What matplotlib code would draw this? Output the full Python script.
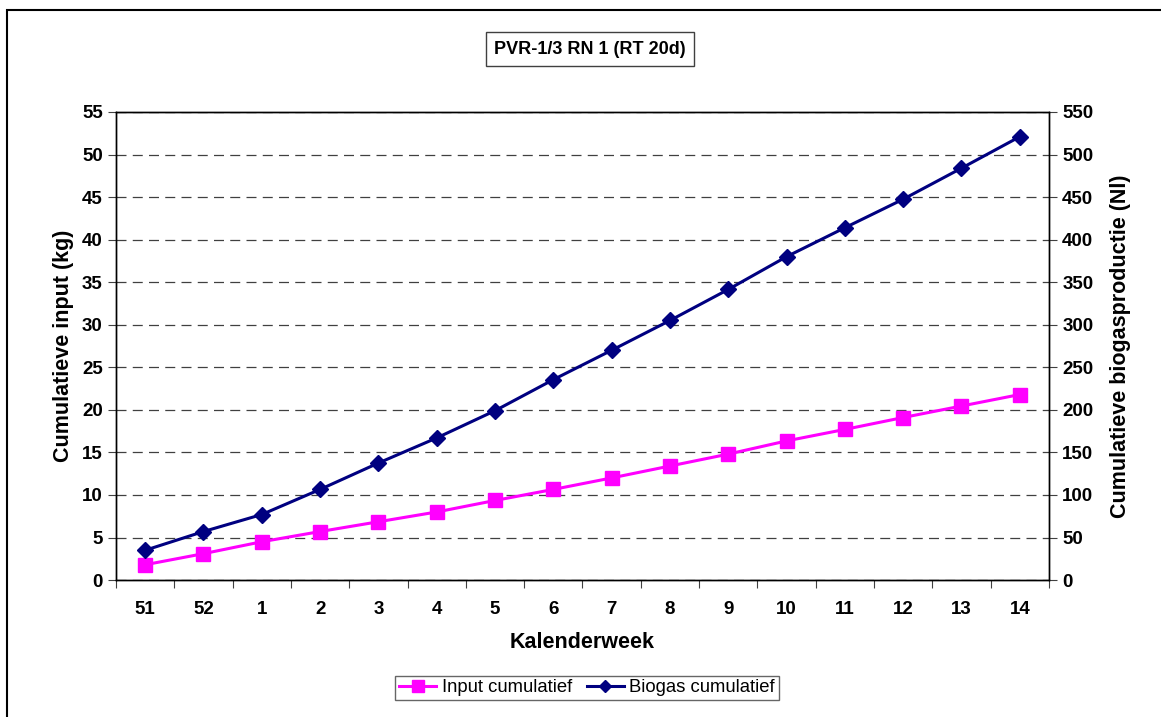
import matplotlib
matplotlib.use('Agg')
from matplotlib import pyplot as plt
from matplotlib.patches import Rectangle
import numpy as np

plt.rcParams['font.family'] = ['Liberation Sans', 'DejaVu Sans']

weeks = ['51', '52', '1', '2', '3', '4', '5', '6', '7', '8', '9', '10', '11', '12', '13', '14']
input_kg = [1.8, 3.1, 4.5, 5.7, 6.85, 8.0, 9.35, 10.65, 12.0, 13.4, 14.8, 16.35, 17.7, 19.1, 20.45, 21.8]
biogas_nl = [35, 57, 77, 106.5, 137.5, 167, 199, 235.5, 270, 305, 341.5, 380, 414, 447.5, 484, 521]

x = np.arange(len(weeks))

fig = plt.figure(figsize=(11.61, 7.17), dpi=100)
ax = fig.add_axes([0.0999, 0.191, 0.8036, 0.6528])
ax2 = ax.twinx()

# figure frame
fig.patches.append(Rectangle((7/1161, -0.05), 1.1, (717-10)/717 + 0.05, transform=fig.transFigure,
                             fill=False, edgecolor='black', linewidth=1.5))

l1, = ax.plot(x, input_kg, color='#FF00FF', marker='s', markersize=10, linewidth=2.2,
              label='Input cumulatief', zorder=3)
l2, = ax2.plot(x, biogas_nl, color='#000080', marker='D', markersize=8, linewidth=2.2,
               label='Biogas cumulatief', zorder=3)

ax.set_xlim(-0.5, len(weeks) - 0.5)
ax.set_ylim(0, 55)
ax2.set_ylim(0, 550)
ax.set_yticks(np.arange(0, 56, 5))
ax2.set_yticks(np.arange(0, 551, 50))

ax.set_xticks(np.arange(-0.5, len(weeks), 1))
ax.set_xticklabels([])
ax.set_xticks(x, minor=True)
ax.set_xticklabels(weeks, minor=True)
ax.tick_params(axis='x', which='minor', length=0, pad=15)
ax.tick_params(axis='x', which='major', length=6, direction='out', color='#404040')

for a in (ax, ax2):
    a.tick_params(axis='y', length=6, direction='out', color='#404040')
    for lab in a.get_yticklabels() + a.get_xticklabels(minor=True):
        lab.set_fontsize(13.5)
        lab.set_fontweight('bold')
    for s in a.spines.values():
        s.set_linewidth(1.0)

ax.yaxis.grid(True, linestyle=(0, (8, 5)), color='#404040', linewidth=0.9)
ax.set_axisbelow(True)

ax.set_ylabel('Cumulatieve input (kg)', fontsize=15.5, fontweight='bold', labelpad=6)
ax2.set_ylabel('Cumulatieve biogasproductie (Nl)', fontsize=15.5, fontweight='bold', labelpad=12)
ax.set_xlabel('Kalenderweek', fontsize=15.5, fontweight='bold', labelpad=10)

fig.text(590/1161, 1 - 49/717, 'PVR-1/3 RN 1 (RT 20d)', ha='center', va='center',
         fontsize=13, fontweight='bold',
         bbox=dict(boxstyle='square,pad=0.45', facecolor='white', edgecolor='#404040', linewidth=1))

fig.legend([l1, l2], ['Input cumulatief', 'Biogas cumulatief'], loc='center',
           bbox_to_anchor=(587/1161, 1 - 688/717), ncol=2, fontsize=13.3, frameon=True,
           fancybox=False, edgecolor='#404040', handlelength=2.0, handletextpad=0.3,
           columnspacing=0.8, borderpad=0.2, markerscale=0.8)

fig.savefig('out.png', dpi=100)
